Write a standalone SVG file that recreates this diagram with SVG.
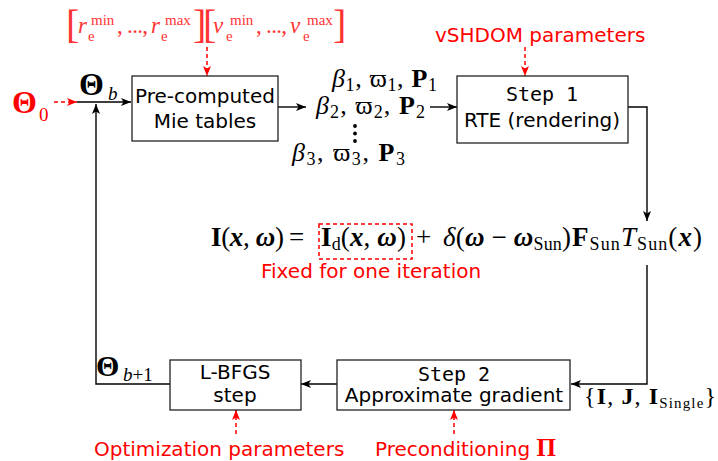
<svg xmlns="http://www.w3.org/2000/svg" width="718" height="461" viewBox="0 0 718 461">
<defs>
<style>
.box{fill:#fff;stroke:#222;stroke-width:1.3}
.t{font-family:"DejaVu Sans",sans-serif;font-size:20px;fill:#000;text-anchor:middle}
.mono{font-family:"DejaVu Sans Mono",monospace;font-size:20px;fill:#000;text-anchor:middle}
.red{font-family:"DejaVu Sans",sans-serif;font-size:20px;fill:#f00}
.m{font-family:"Liberation Serif","DejaVu Serif",serif;font-size:26px;fill:#000}
.eq{font-family:"Liberation Serif","DejaVu Serif",serif;font-size:27px;fill:#000}
.rm{font-family:"Liberation Serif","DejaVu Serif",serif;font-size:23px;fill:#f33}
.b{font-weight:bold}
.i{font-style:italic}
.bi{font-weight:bold;font-style:italic}
.s{font-size:18px}
.ss{font-size:15px}
.ln{fill:none;stroke:#000;stroke-width:1.4}
.rd{fill:none;stroke:#f00;stroke-width:1.5;stroke-dasharray:4,3}
</style>
<marker id="ah" markerWidth="11" markerHeight="8" refX="10" refY="4" orient="auto" markerUnits="userSpaceOnUse"><path d="M0,0 L10,4 L0,8 L2.5,4 Z" fill="#000"/></marker>
<marker id="ahr" markerWidth="11" markerHeight="8" refX="10" refY="4" orient="auto" markerUnits="userSpaceOnUse"><path d="M0,0 L10,4 L0,8 L2.5,4 Z" fill="#f00"/></marker>
</defs>
<rect width="718" height="461" fill="#fff"/>

<g id="connectors">
<path class="ln" d="M77,102 H131" marker-end="url(#ah)"/>
<path class="ln" d="M170,384 H96 V104" marker-end="url(#ah)"/>
<path class="ln" d="M278,107 H306" marker-end="url(#ah)"/>
<path class="ln" d="M430,107 H457" marker-end="url(#ah)"/>
<path class="ln" d="M628,107 H647 V221" marker-end="url(#ah)"/>
<path class="ln" d="M647,265 V384 H571" marker-end="url(#ah)"/>
<path class="ln" d="M337,384 H301" marker-end="url(#ah)"/>
<path class="rd" d="M54,102 H77" marker-end="url(#ahr)"/>
<path class="rd" d="M207,47 V76" marker-end="url(#ahr)"/>
<path class="rd" d="M525,47 V76" marker-end="url(#ahr)"/>
<path class="rd" d="M236,434 V410" marker-end="url(#ahr)"/>
<path class="rd" d="M454,434 V410" marker-end="url(#ahr)"/>
</g>

<g id="theta0">
<text class="m b" x="12" y="113" style="fill:#f00;font-size:32px">Θ</text>
<text class="m" x="39" y="121" style="fill:#f00;font-size:19px">0</text>
</g>

<g id="theta-b">
<text class="m b" x="79" y="95" style="font-size:32px">Θ</text>
<text class="m i" x="108" y="100" style="font-size:19px">b</text>
</g>

<g id="range">
<text class="rm" x="66" y="38" style="font-size:40px">[</text>
<text class="rm i" x="78" y="33">r</text>
<text class="rm ss" x="91" y="25">min</text>
<text class="rm ss" x="88" y="41">e</text>
<text class="rm" x="117" y="33" textLength="31" lengthAdjust="spacing">, ..., </text>
<text class="rm i" x="151" y="33">r</text>
<text class="rm ss" x="165" y="25">max</text>
<text class="rm ss" x="161" y="41">e</text>
<text class="rm" x="193" y="38" style="font-size:40px">]</text>
<text class="rm" x="203" y="38" style="font-size:40px">[</text>
<text class="rm i" x="213" y="33">v</text>
<text class="rm ss" x="230" y="25">min</text>
<text class="rm ss" x="226" y="41">e</text>
<text class="rm" x="256" y="33" textLength="31" lengthAdjust="spacing">, ..., </text>
<text class="rm i" x="290" y="33">v</text>
<text class="rm ss" x="307" y="25">max</text>
<text class="rm ss" x="303" y="41">e</text>
<text class="rm" x="333" y="38" style="font-size:40px">]</text>
</g>

<g id="mie">
<rect class="box" x="132" y="76" width="146" height="65"/>
<text class="t" x="205" y="103">Pre-computed</text>
<text class="t" x="205" y="128">Mie tables</text>
</g>

<g id="optics">
<text class="m" x="332" y="87" textLength="105" lengthAdjust="spacing"><tspan class="i">β</tspan><tspan class="s" dy="4">1</tspan><tspan dy="-4">, ϖ</tspan><tspan class="s" dy="4">1</tspan><tspan dy="-4">, </tspan><tspan class="b">P</tspan><tspan class="s" dy="4">1</tspan></text>
<text class="m" x="316" y="114" textLength="109" lengthAdjust="spacing"><tspan class="i">β</tspan><tspan class="s" dy="4">2</tspan><tspan dy="-4">, ϖ</tspan><tspan class="s" dy="4">2</tspan><tspan dy="-4">, </tspan><tspan class="b">P</tspan><tspan class="s" dy="4">2</tspan></text>
<circle cx="355" cy="126" r="1.9"/>
<circle cx="355" cy="133.5" r="1.9"/>
<circle cx="355" cy="141" r="1.9"/>
<text class="m" x="292" y="161" textLength="113" lengthAdjust="spacing"><tspan class="i">β</tspan><tspan class="s" dy="4">3</tspan><tspan dy="-4">, ϖ</tspan><tspan class="s" dy="4">3</tspan><tspan dy="-4">, </tspan><tspan class="b">P</tspan><tspan class="s" dy="4">3</tspan></text>
</g>

<g id="vshdom">
<text class="red" x="435" y="42">vSHDOM parameters</text>
</g>

<g id="step1">
<rect class="box" x="457" y="76" width="171" height="67"/>
<text class="mono" x="542" y="101">Step 1</text>
<text class="t" x="542" y="127">RTE (rendering)</text>
</g>

<g id="equation">
<text class="eq" x="211" y="246" textLength="73" lengthAdjust="spacing"><tspan class="b">I</tspan>(<tspan class="bi">x</tspan>, <tspan class="bi">ω</tspan>)</text>
<text class="eq" x="289" y="246">=</text>
<rect x="319" y="224" width="93" height="35" fill="none" stroke="#f00" stroke-width="1.5" stroke-dasharray="4,3"/>
<text class="eq" x="321" y="246" textLength="85" lengthAdjust="spacing"><tspan class="b">I</tspan><tspan class="s" dy="4">d</tspan><tspan dy="-4">(</tspan><tspan class="bi">x</tspan>, <tspan class="bi">ω</tspan>)</text>
<text class="eq" x="416" y="246">+</text>
<text class="eq" x="443" y="246" textLength="128" lengthAdjust="spacing"><tspan class="i">δ</tspan>(<tspan class="bi">ω</tspan> − <tspan class="bi">ω</tspan><tspan class="s" dy="4">Sun</tspan><tspan dy="-4">)</tspan></text>
<text class="eq" x="572" y="246" textLength="130" lengthAdjust="spacing"><tspan class="b">F</tspan><tspan class="s" dy="4">Sun</tspan><tspan class="i" dy="-4">T</tspan><tspan class="s" dy="4">Sun</tspan><tspan dy="-4">(</tspan><tspan class="bi">x</tspan>)</text>
<text class="red" x="261" y="278">Fixed for one iteration</text>
</g>

<g id="step2">
<rect class="box" x="337" y="360" width="233" height="50"/>
<text class="mono" x="454" y="381">Step 2</text>
<text class="t" x="454" y="402">Approximate gradient</text>
</g>

<g id="outputs">
<text class="m" x="584" y="404" textLength="132" lengthAdjust="spacing" style="font-size:24px">{<tspan class="b">I</tspan>, <tspan class="b">J</tspan>, <tspan class="b">I</tspan><tspan class="ss" dy="4">Single</tspan><tspan dy="-4">}</tspan></text>
</g>

<g id="lbfgs">
<rect class="box" x="170" y="360" width="131" height="50"/>
<text class="t" x="235" y="379">L-BFGS</text>
<text class="t" x="235" y="402">step</text>
</g>

<g id="theta-b1">
<text class="m b" x="96" y="376" style="font-size:30px">Θ</text>
<text class="m" x="123" y="381" style="font-size:19px"><tspan class="i">b</tspan>+1</text>
</g>

<g id="optim">
<text class="red" x="94" y="456">Optimization parameters</text>
</g>

<g id="precond">
<text class="red" x="375" y="456">Preconditioning <tspan class="b" style="font-family:'Liberation Serif',serif;font-size:25px">Π</tspan></text>
</g>
</svg>
